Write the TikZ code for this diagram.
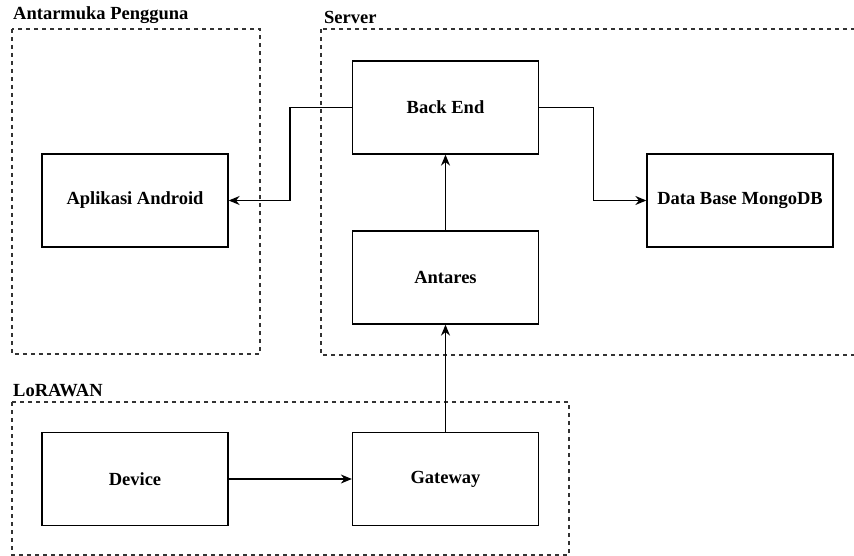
\documentclass[tikz,border=0pt]{standalone}
\usepackage{fontspec}
\setmainfont{Liberation Serif}
\usetikzlibrary{arrows.meta,positioning}

\begin{document}
\begin{tikzpicture}[x=1pt, y=-1pt, node distance=200pt, on grid,
  block/.style={draw, line width=1.3pt, minimum width=186pt, minimum height=93pt, font=\fontsize{18.5}{22}\selectfont\bfseries},
  group/.style={draw=black!80, line width=1.2pt, dash pattern=on 4pt off 4pt},
  grouplabel/.style={anchor=south west, inner sep=0pt, font=\fontsize{18.5}{22}\selectfont\bfseries},
  link/.style={line width=1.3pt, -{Stealth[length=11pt,width=9pt]}}]
\clip (0,0) rectangle (854,556);
\draw [group] (12,29) rectangle (260,354);
\draw [group] (321,29) rectangle (870,355);
\draw [group] (12,402) rectangle (569,555);
\node [grouplabel] (lbl_ui) at (13,24) {Antarmuka Pengguna};
\node [grouplabel] (lbl_srv) at (324,24) {Server};
\node [grouplabel] (lbl_lora) at (13,397) {LoRAWAN};
\node [block] (gateway) at (445.5,479) {Gateway};
\node [block] (device) [left=310.5pt of gateway] {Device};
\node [block] (antares) [above=201.5pt of gateway] {Antares};
\node [block] (backend) [above=170pt of antares] {Back End};
\node [block] (android) [above=278.5pt of device] {Aplikasi Android};
\node [block] (mongodb) at (740,200.5) {Data Base MongoDB};
\draw [link] (device) -- (gateway);
\draw [link] (gateway) -- (antares);
\draw [link] (antares) -- (backend);
\draw [link] (backend.west) -- ++(-62,0) |- (android);
\draw [link] (backend.east) -- ++(54,0) |- (mongodb);
\end{tikzpicture}
\end{document}
